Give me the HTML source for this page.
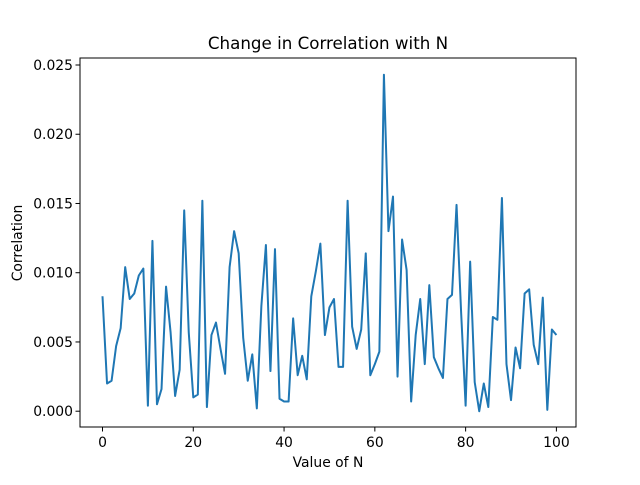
<!DOCTYPE html>
<html><head><meta charset="utf-8"><style>
body{margin:0;background:#fff;font-family:"Liberation Sans","DejaVu Sans",sans-serif}
svg text{font-family:"DejaVu Sans","Liberation Sans",sans-serif;fill:#000}
</style></head><body>
<svg id="chart" width="640" height="480">
<rect width="640" height="480" fill="#fff"/>
<text x="328" y="49" font-size="16.7" text-anchor="middle">Change in Correlation with N</text>
<text x="328" y="467" font-size="13.9" text-anchor="middle">Value of N</text>
<text transform="translate(22,243) rotate(-90)" font-size="13.9" text-anchor="middle">Correlation</text>
<g id="ticks"></g>
<polyline id="line" fill="none" stroke="#1f77b4" stroke-width="2" stroke-linejoin="round"/>
<rect x="80" y="58" width="496" height="369" fill="none" stroke="#000" stroke-width="1"/>
</svg>
<script>
const nValues = Array.from({length:101},(_,i)=>i);
const correlation = [0.0083,0.0020,0.0022,0.0047,0.0060,0.0104,0.0081,0.0085,0.0098,0.0103,
0.0004,0.0123,0.0005,0.0016,0.0090,0.0057,0.0011,0.0030,0.0145,0.0057,
0.0010,0.0012,0.0152,0.0003,0.0055,0.0064,0.0045,0.0027,0.0104,0.0130,
0.0114,0.0053,0.0022,0.0041,0.0002,0.0076,0.0120,0.0029,0.0117,0.0009,
0.0007,0.0007,0.0067,0.0026,0.0040,0.0023,0.0083,0.0101,0.0121,0.0055,
0.0075,0.0081,0.0032,0.0032,0.0152,0.0061,0.0045,0.0059,0.0114,0.0026,
0.0034,0.0043,0.0243,0.0130,0.0155,0.0025,0.0124,0.0102,0.0007,0.0055,
0.0081,0.0034,0.0091,0.0039,0.0031,0.0024,0.0081,0.0084,0.0149,0.0072,
0.0004,0.0108,0.0021,0.0000,0.0020,0.0003,0.0068,0.0066,0.0154,0.0034,
0.0008,0.0046,0.0031,0.0085,0.0088,0.0048,0.0034,0.0082,0.0001,0.0059,0.0055];
const xTicks = [0,20,40,60,80,100];
const yTicks = [0,0.005,0.010,0.015,0.020,0.025];
const yTickLabels = ["0.000","0.005","0.010","0.015","0.020","0.025"];
const xs = v => 102.5 + v*(556.4-102.5)/100;
const ys = v => 411.2 - v*(411.2-65)/0.025;
const ns="http://www.w3.org/2000/svg";
const line=document.getElementById('line');
line.setAttribute('points', nValues.map((n,i)=>xs(n).toFixed(2)+','+ys(correlation[i]).toFixed(2)).join(' '));
const g=document.getElementById('ticks');
xTicks.forEach(t=>{
  const l=document.createElementNS(ns,'line');
  l.setAttribute('x1',xs(t));l.setAttribute('x2',xs(t));l.setAttribute('y1',427);l.setAttribute('y2',431.5);l.setAttribute('stroke','#000');
  
  
  g.appendChild(l);
  const tx=document.createElementNS(ns,'text');
  tx.setAttribute('x',xs(t));tx.setAttribute('y',447);tx.setAttribute('font-size','13.9');tx.setAttribute('text-anchor','middle');
  tx.textContent=t;
  
  
  g.appendChild(tx);
});
yTicks.forEach((t,i)=>{
  const l=document.createElementNS(ns,'line');
  l.setAttribute('x1',75.5);l.setAttribute('x2',80);l.setAttribute('y1',ys(t));l.setAttribute('y2',ys(t));l.setAttribute('stroke','#000');
  
  
  g.appendChild(l);
  const tx=document.createElementNS(ns,'text');
  tx.setAttribute('x',73);tx.setAttribute('y',ys(t)+5);tx.setAttribute('font-size','13.9');tx.setAttribute('text-anchor','end');
  tx.textContent=yTickLabels[i];
  
  
  g.appendChild(tx);
});
</script>
</body></html>
